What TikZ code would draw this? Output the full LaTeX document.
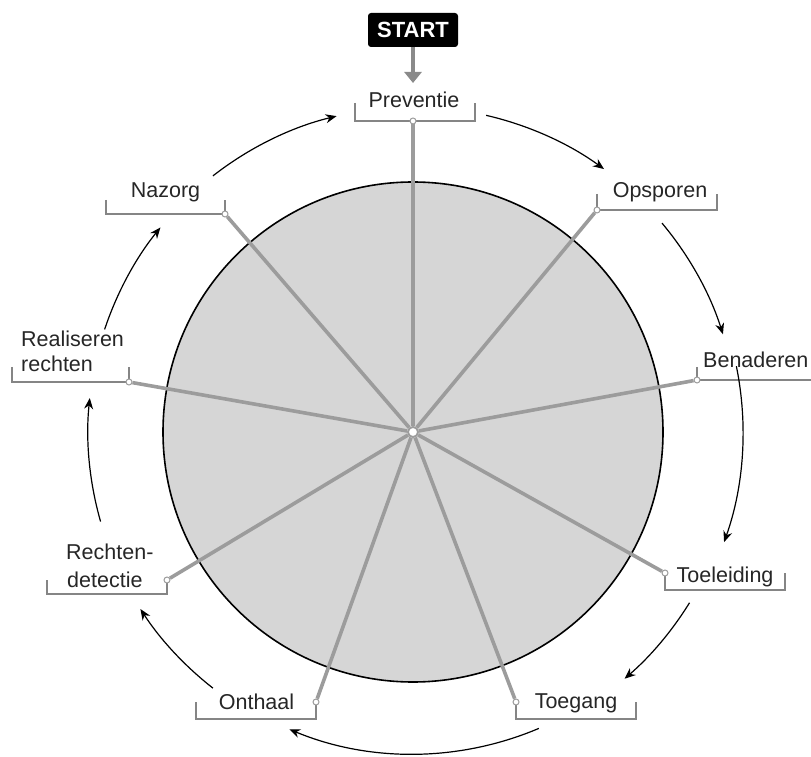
\documentclass[tikz,border=0pt]{standalone}
\usepackage{fontspec}
\setmainfont{Liberation Sans}
\usetikzlibrary{arrows.meta}
\definecolor{fillgray}{HTML}{D6D6D6}
\definecolor{spokegray}{HTML}{9C9C9C}
\definecolor{brgray}{HTML}{858585}
\definecolor{startgray}{HTML}{8A8A8A}
\definecolor{txt}{HTML}{262626}
\begin{document}
\begin{tikzpicture}[x=1pt,y=1pt,
  lab/.style={font=\fontsize{21.5}{26}\selectfont, text=txt, inner sep=0pt},
  bracket/.style={draw=brgray, line width=1.6pt},
  spoke/.style={draw=spokegray, line width=3.6pt},
  enddot/.style={circle, draw=spokegray, fill=white, line width=1pt, minimum size=6pt, inner sep=0pt},
  flow/.style={draw=black, line width=1.2pt, -{Stealth[length=11pt,width=9pt]}}]
\useasboundingbox (0,0) rectangle (811,756);

% disk
\node[circle, draw=black, fill=fillgray, line width=1.6pt, minimum size=500pt, inner sep=0pt] (disk) at (413,324) {};

% START
\node[fill=black, rounded corners=3pt, text=white, font=\bfseries\fontsize{22}{26}\selectfont,
      minimum width=90pt, minimum height=34pt, inner sep=0pt] (start) at (413,726) {START};
\coordinate (pin) at (413,673);
\draw[draw=startgray, line width=4pt, -{Triangle[length=11pt,width=17pt]}] (start.south) -- (pin);

% labels
\node[lab, anchor=base] (l1) at (414,648) {Preventie};
\node[lab, anchor=base] (l2) at (660,558) {Opsporen};
\node[lab, anchor=base west] (l3) at (703,388) {Benaderen};
\node[lab, anchor=base] (l4) at (725,174) {Toeleiding};
\node[lab, anchor=base] (l5) at (576,48) {Toegang};
\node[lab, anchor=base] (l6) at (256.5,47) {Onthaal};
\node[lab, anchor=base west] (l7a) at (66,197) {Rechten-};
\node[lab, anchor=base west] (l7b) at (67,169) {detectie};
\node[lab, anchor=base west] (l8a) at (21,409) {Realiseren};
\node[lab, anchor=base west] (l8b) at (21,384) {rechten};
\node[lab, anchor=base] (l9) at (165.5,558) {Nazorg};

% brackets
\draw[bracket] (355,653) -- (355,635) -- (475,635) -- (475,653);
\draw[bracket] (597,562) -- (597,546) -- (717,546) -- (717,562);
\draw[bracket] (697,389) -- (697,376) -- (812,376);
\draw[bracket] (665,183) -- (665,166) -- (785,166) -- (785,183);
\draw[bracket] (516,54) -- (516,37) -- (636,37) -- (636,54);
\draw[bracket] (196,54) -- (196,37) -- (316,37) -- (316,54);
\draw[bracket] (47,176) -- (47,162) -- (167,162) -- (167,176);
\draw[bracket] (12,389) -- (12,374) -- (129,374) -- (129,389);
\draw[bracket] (106,556) -- (106,542) -- (225,542) -- (225,556);

% spoke ends
\node[enddot] (d1) at (413,635) {};
\node[enddot] (d2) at (597,546) {};
\node[enddot] (d3) at (697,376) {};
\node[enddot] (d4) at (665,183) {};
\node[enddot] (d5) at (516,54) {};
\node[enddot] (d6) at (316,54) {};
\node[enddot] (d7) at (167,176) {};
\node[enddot] (d8) at (129,374) {};
\node[enddot] (d9) at (225,542) {};
\node[circle, draw=spokegray, fill=white, line width=1.8pt, minimum size=10pt, inner sep=0pt] (hub) at (disk.center) {};

% spokes
\foreach \d in {d1,d2,d3,d4,d5,d6,d7,d8,d9}
  \draw[spoke] (hub) -- (\d);

% cycle arrows
\draw[flow] ([shift={(77:325pt)}]disk.center) arc[start angle=77, end angle=54, radius=325pt];
\draw[flow] ([shift={(40:325pt)}]disk.center) arc[start angle=40, end angle=17.5, radius=325pt];
\draw[flow] ([shift={(11.5:330pt)}]disk.center) arc[start angle=11.5, end angle=-19.5, radius=330pt];
\draw[flow] ([shift={(-31.7:325pt)}]disk.center) arc[start angle=-31.7, end angle=-49.4, radius=325pt];
\draw[flow] ([shift={(-67:322pt)}]disk.center) arc[start angle=-67, end angle=-112.6, radius=322pt];
\draw[flow] ([shift={(-128:325pt)}]disk.center) arc[start angle=-128, end angle=-147, radius=325pt];
\draw[flow] ([shift={(-164:325pt)}]disk.center) arc[start angle=-164, end angle=-186, radius=325pt];
\draw[flow] ([shift={(161.6:325pt)}]disk.center) arc[start angle=161.6, end angle=141, radius=325pt];
\draw[flow] ([shift={(128:325pt)}]disk.center) arc[start angle=128, end angle=103.6, radius=325pt];
\end{tikzpicture}
\end{document}
